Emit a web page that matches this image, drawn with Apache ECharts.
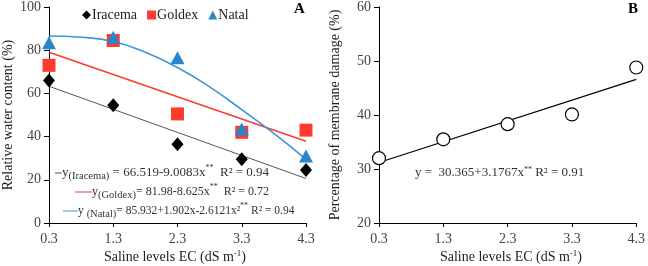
<!DOCTYPE html>
<html>
<head>
<meta charset="utf-8">
<script src="https://cdn.jsdelivr.net/npm/echarts@6/dist/echarts.min.js"></script>
<style>
  html, body { margin: 0; padding: 0; background: #fff; }
  #chart { width: 648px; height: 266px; }
</style>
</head>
<body>
<div id="chart"></div>
<script>
// saline levels EC (dS m-1)
const levels = [0.3, 1.3, 2.3, 3.3, 4.3]
const xTicks = ['0.3', '1.3', '2.3', '3.3', '4.3']

// panel A: relative water content (%)
const iracema = [66, 54.5, 36.5, 29.5, 24.5]
const goldex = [73, 84.5, 50.5, 42, 43]
const natal = [83.5, 86, 76.5, 43.5, 31]

// trend lines
const iracemaFit = [[0.3, 63.3], [4.3, 20.6]]
const goldexFit = [[0.3, 79], [4.3, 37.9]]
const natalFit = [[0.3, 86.6], [0.8, 86], [1.3, 84], [1.8, 79], [2.3, 72], [2.8, 63], [3.3, 52.5], [3.8, 41.5], [4.3, 29.5]]

// panel B: membrane damage (%)
const damage = [32, 35.5, 38.3, 40.1, 48.8]
const damageFit = [[0.3, 31.2], [4.3, 46.6]]

const serif = 'Liberation Serif'
const x0 = 0.3
const pts = (vals) => vals.map((v, i) => [levels[i] - x0, v])
const fit = (arr) => arr.map(p => [p[0] - x0, p[1]])

const chart = echarts.init(document.getElementById('chart'))

const xAxisBase = (gridIndex) => ({
  type: 'value', gridIndex, min: 0, max: 4, interval: 1,
  axisLine: { lineStyle: { color: '#000', width: 1 } },
  axisTick: { show: true, length: 4, lineStyle: { color: '#000' } },
  axisLabel: { color: '#444', fontFamily: serif, fontSize: 14, margin: 9, formatter: (v) => xTicks[Math.round(v)] },
  splitLine: { show: false },
})

const yAxisBase = (gridIndex, min, max, interval, name, gap) => ({
  type: 'value', gridIndex, min, max, interval,
  name, nameLocation: 'middle', nameGap: gap,
  nameTextStyle: { color: '#222', fontFamily: serif, fontSize: 14 },
  axisLine: { show: true, lineStyle: { color: '#000', width: 1 } },
  axisTick: { show: true, length: 5, lineStyle: { color: '#000' } },
  axisLabel: { color: '#444', fontFamily: serif, fontSize: 14, margin: 8 },
  splitLine: { show: false },
})

const eqStyle = (size) => ({
  fontFamily: serif, fontSize: size, fill: '#333', verticalAlign: 'middle',
  rich: {
    s: { fontFamily: serif, fontSize: 10.5, fill: '#333', verticalAlign: 'bottom', padding: [7, 0, 0, 0] },
    p: { fontFamily: serif, fontSize: 8, fill: '#333', verticalAlign: 'top', padding: [0, 0, 6, 0] },
  },
})

const titleStyle = {
  align: 'center', verticalAlign: 'middle', fontFamily: serif, fontSize: 14, fill: '#222',
  rich: { p: { fontFamily: serif, fontSize: 9, fill: '#222', verticalAlign: 'top', padding: [0, 0, 7, 0] } },
}

chart.setOption({
  animation: false,
  grid: [
    { left: 44, top: 6, width: 262, height: 217 },
    { left: 379, top: 7, width: 263, height: 216 },
  ],
  legend: {
    left: 77, top: 3, itemGap: 10, itemWidth: 9, itemHeight: 9,
    textStyle: { fontFamily: serif, fontSize: 14, color: '#222', padding: [0, 0, 0, -4] },
    data: ['Iracema', 'Goldex', 'Natal'],
  },
  xAxis: [xAxisBase(0), xAxisBase(1)],
  yAxis: [
    yAxisBase(0, 0, 100, 20, 'Relative water content (%)', 34),
    yAxisBase(1, 20, 60, 10, 'Percentage of membrane damage (%)', 37),
  ],
  series: [
    { type: 'line', xAxisIndex: 0, yAxisIndex: 0, data: fit(iracemaFit), symbol: 'none', lineStyle: { color: '#555', width: 1 }, z: 1 },
    { type: 'line', xAxisIndex: 0, yAxisIndex: 0, data: fit(goldexFit), symbol: 'none', lineStyle: { color: '#ff3b2e', width: 1.6 }, z: 1 },
    { type: 'line', xAxisIndex: 0, yAxisIndex: 0, data: fit(natalFit), smooth: true, symbol: 'none', lineStyle: { color: '#3a96d6', width: 1.6 }, z: 1 },
    { name: 'Iracema', type: 'scatter', xAxisIndex: 0, yAxisIndex: 0, data: pts(iracema), symbol: 'diamond', symbolSize: [12, 14], itemStyle: { color: '#000', opacity: 1 }, z: 3 },
    { name: 'Goldex', type: 'scatter', xAxisIndex: 0, yAxisIndex: 0, data: pts(goldex), symbol: 'rect', symbolSize: 13, itemStyle: { color: '#ff3b2e', opacity: 1 }, z: 3 },
    { name: 'Natal', type: 'scatter', xAxisIndex: 0, yAxisIndex: 0, data: pts(natal), symbol: 'triangle', symbolSize: [14, 13], itemStyle: { color: '#2a86cc', opacity: 1 }, z: 4 },
    { type: 'line', xAxisIndex: 1, yAxisIndex: 1, data: fit(damageFit), symbol: 'none', lineStyle: { color: '#000', width: 1.2 }, z: 1 },
    { type: 'scatter', xAxisIndex: 1, yAxisIndex: 1, data: pts(damage), symbol: 'circle', symbolSize: 13, itemStyle: { color: '#fff', borderColor: '#000', borderWidth: 1.2, opacity: 1 }, z: 3 },
  ],
  graphic: [
    { type: 'text', left: 294, top: 2, style: { text: 'A', fontFamily: serif, fontSize: 15, fontWeight: 'bold', fill: '#000' } },
    { type: 'text', left: 628, top: 2, style: { text: 'B', fontFamily: serif, fontSize: 15, fontWeight: 'bold', fill: '#000' } },
    // equation keys
    { type: 'line', shape: { x1: 55, y1: 173, x2: 62, y2: 173 }, style: { stroke: '#555', lineWidth: 1 } },
    { type: 'text', x: 62, y: 173, style: Object.assign(eqStyle(13), { text: 'y{s|(Iracema)} = 66.519-9.0083x{p|**}  R² = 0.94' }) },
    { type: 'line', shape: { x1: 75, y1: 192, x2: 92, y2: 192 }, style: { stroke: '#ff3b2e', lineWidth: 1 } },
    { type: 'text', x: 92, y: 192, style: Object.assign(eqStyle(12), { text: 'y{s|(Goldex)}= 81.98-8.625x{p|**}  R² = 0.72' }) },
    { type: 'line', shape: { x1: 63, y1: 211, x2: 78, y2: 211 }, style: { stroke: '#3a96d6', lineWidth: 1 } },
    { type: 'text', x: 78, y: 211, style: Object.assign(eqStyle(11.5), { text: 'y {s|(Natal)}= 85.932+1.902x-2.6121x²{p|**} R² = 0.94' }) },
    { type: 'text', x: 415, y: 173, style: Object.assign(eqStyle(13), { text: 'y =  30.365+3.1767x{p|**} R² = 0.91' }) },
    // x axis titles
    { type: 'text', x: 175, y: 257, style: Object.assign({ text: 'Saline levels EC (dS m{p|-1})' }, titleStyle) },
    { type: 'text', x: 511, y: 257, style: Object.assign({ text: 'Saline levels EC (dS m{p|-1})' }, titleStyle) },
  ],
})
</script>
</body>
</html>
